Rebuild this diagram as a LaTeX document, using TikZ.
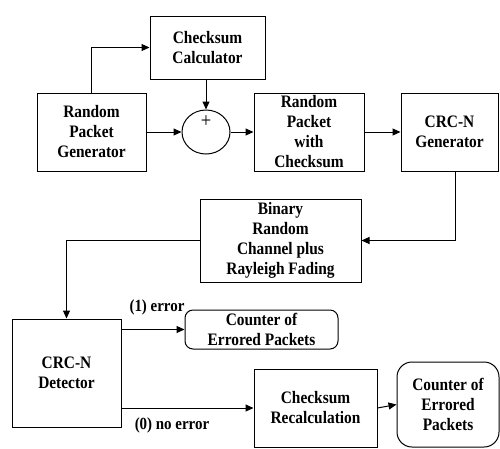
\documentclass[tikz,border=0pt]{standalone}
\usepackage{fontspec}
\setmainfont{Liberation Serif}[FakeStretch=0.88]
\usepackage{tikz}
\usetikzlibrary{arrows.meta,calc,positioning,shapes.geometric}
\tikzset{
  blk/.style={draw,line width=1pt,align=center,font=\bfseries\fontsize{17.5}{20}\selectfont,inner sep=0pt},
  rblk/.style={blk,rounded corners=8pt},
  lbl/.style={font=\bfseries\fontsize{17}{20}\selectfont,inner sep=0pt}
}

\begin{document}
\begin{tikzpicture}[x=1pt,y=-1pt,>={Triangle[width=7pt,length=8pt]},line width=1pt]
  \useasboundingbox (0,0) rectangle (500,448);
  \node[blk,minimum width=115,minimum height=63] (calc) at (207.5,47.5) {Checksum\\Calculator};
  \node[blk,minimum width=109,minimum height=78] (gen) at (91.5,132) {Random\\Packet\\Generator};
  \node[draw,ellipse,line width=1pt,minimum width=48,minimum height=44,inner sep=0pt] (sum) at (206,132) {};
  \node[font=\fontsize{21}{21}\selectfont,inner sep=0pt] (plus) at (206,122) {+};
  \node[blk,minimum width=110,minimum height=78] (pkt) at (309,132) {Random\\Packet\\with\\Checksum};
  \node[blk,minimum width=97,minimum height=78] (crcgen) at (449.5,132) {CRC-N\\Generator};
  \node[blk,minimum width=161,minimum height=83] (chan) at (280.5,240.5) {Binary\\Random\\Channel plus\\Rayleigh Fading};
  \node[blk,minimum width=109,minimum height=108] (det) at (66.5,373) {CRC-N\\Detector};
  \node[rblk,minimum width=153,minimum height=39] (cnt1) at (261.5,329.5) {Counter of\\Errored Packets};
  \node[blk,minimum width=123,minimum height=78] (recalc) at (315.5,408) {Checksum\\Recalculation};
  \node[rblk,rounded corners=15pt,minimum width=102,minimum height=85] (cnt2) at (448,404.5) {Counter of\\Errored\\Packets};
  % top row
  \draw[->] (gen.north) |- (calc.west);
  \draw[->] (sum.north |- calc.south) -- (sum.north);
  \draw[->] (gen.east) -- (sum.west);
  \draw[->] (sum.east) -- (pkt.west);
  \draw[->] (pkt.east) -- (crcgen.west);
  % channel and detector
  \draw[->] ([xshift=6]crcgen.south) |- (chan.east);
  \draw[->] (chan.west) -| (det.north);
  \draw[->] (det.east |- cnt1.west) -- (cnt1.west);
  \node[lbl] (err1) at (157,307) {(1) error};
  \draw[->] (det.east |- recalc.west) -- (recalc.west);
  \node[lbl] (err0) at (172,425) {(0) no error};
  \draw[->] (recalc.east) -- (cnt2.west);
\end{tikzpicture}
\end{document}
